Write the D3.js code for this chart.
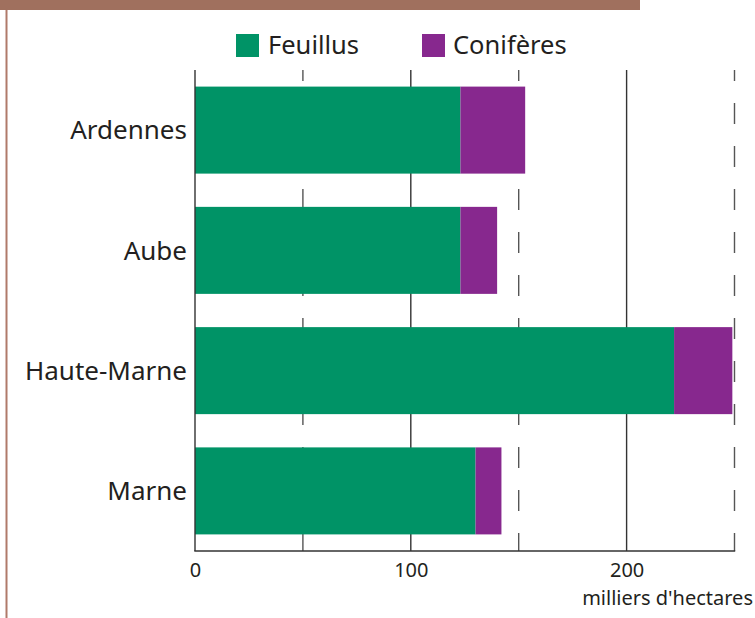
<!DOCTYPE html>
<html><head><meta charset="utf-8">
<script src="https://cdn.jsdelivr.net/npm/d3@7"></script>
<style>body{margin:0;background:#fff}svg{display:block}text{font-family:"Noto Sans",sans-serif;fill:#231f20}</style>
</head><body>
<svg id="c" width="755" height="618"></svg>
<script>
const categories = ["Ardennes", "Aube", "Haute-Marne", "Marne"];
const feuillus = [123, 123, 222, 130];
const coniferes = [30, 17, 27, 12];
const seriesNames = ["Feuillus", "Conifères"];
const seriesColors = ["#009366", "#87288e"];
const tickValues = [0, 50, 100, 150, 200, 250];
const tickLabels = ["0", "", "100", "", "200", ""];
const unitLabel = "milliers d'hectares";

const svg = d3.select("#c");
// frame decoration
svg.append("rect").attr("x",0).attr("y",0).attr("width",640).attr("height",10).attr("fill","#a0705e");
svg.append("rect").attr("x",5.5).attr("y",10).attr("width",2).attr("height",608).attr("fill","#b07a6a");

const x = d3.scaleLinear().domain([0,250]).range([195,734.5]);
const y = d3.scaleBand().domain(categories).range([70,551]).paddingInner(0.2765).paddingOuter(0.138);
const plotTop = 70, plotBottom = 551;

// gridlines
tickValues.forEach((v,i)=>{
  if (v===0) return;
  const dashed = (v % 100) !== 0;
  svg.append("line").attr("x1",x(v)).attr("x2",x(v)).attr("y1",plotTop).attr("y2",plotBottom)
    .attr("stroke", dashed ? "#555" : "#333").attr("stroke-width",1.4)
    .attr("stroke-dasharray", dashed ? "21,22" : null)
    .attr("stroke-dashoffset", dashed ? 10 : null);
});

// bars
const data = categories.map((c,i)=>({c, f:feuillus[i], k:coniferes[i]}));
const stack = d3.stack().keys(["f","k"])(data);
stack.forEach((layer,li)=>{
  svg.append("g").selectAll("rect").data(layer).join("rect")
    .attr("x", d=>x(d[0])).attr("width", d=>x(d[1])-x(d[0]))
    .attr("y", d=>y(d.data.c)).attr("height", y.bandwidth())
    .attr("fill", seriesColors[li]);
});

// axes
svg.append("line").attr("x1",x(0)).attr("x2",x(0)).attr("y1",plotTop).attr("y2",plotBottom).attr("stroke","#333").attr("stroke-width",1.4);
svg.append("line").attr("x1",x(0)-0.7).attr("x2",x(250)+0.7).attr("y1",plotBottom).attr("y2",plotBottom).attr("stroke","#333").attr("stroke-width",1.4);

const xAxis = d3.axisBottom(x).tickValues(tickValues).tickSize(0).tickFormat((d,i)=>tickLabels[i]);
const gx = svg.append("g").attr("transform",`translate(0,${plotBottom})`).call(xAxis);
gx.select(".domain").remove();
gx.selectAll("text").attr("dy",null).attr("y",26).style("font-size","20px").style("font-family","'Noto Sans',sans-serif").attr("fill","#231f20");

svg.append("text").attr("x",753).attr("y",605).attr("text-anchor","end").style("font-size","20px").text(unitLabel);

// category labels
const yAxis = d3.axisLeft(y).tickSize(0).tickPadding(8);
const gy = svg.append("g").attr("transform",`translate(${x(0)},0)`).call(yAxis);
gy.select(".domain").remove();
gy.selectAll("text").attr("dy","0.36em").style("font-size","26px").style("font-family","'Noto Sans',sans-serif").attr("fill","#231f20");

// legend
const leg = [{x:236, tx:268},{x:422, tx:453}];
seriesNames.forEach((n,i)=>{
  svg.append("rect").attr("x",leg[i].x).attr("y",34).attr("width",23).attr("height",23).attr("fill",seriesColors[i]);
  svg.append("text").attr("x",leg[i].tx).attr("y",54).style("font-size","25.5px").text(n);
});
</script>
</body></html>
